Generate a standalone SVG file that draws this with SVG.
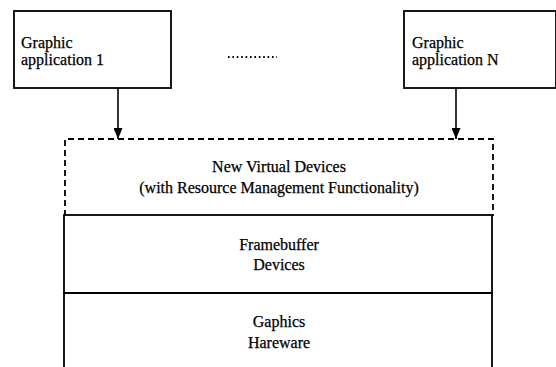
<svg xmlns="http://www.w3.org/2000/svg" width="556" height="367" viewBox="0 0 556 367">
<defs>
<marker id="arr" markerWidth="11" markerHeight="9" refX="11" refY="4.5" orient="auto" markerUnits="userSpaceOnUse" viewBox="0 0 11 9">
<path d="M0,0 L11,4.5 L0,9 Z" fill="#000"/>
</marker>
</defs>
<style>
.box{fill:#fff;stroke:#000;stroke-width:1.8}
.dash{fill:none;stroke:#000;stroke-width:1.8;stroke-dasharray:6 4}
text{font-family:"Liberation Serif","Times New Roman",Times,serif;font-size:16px;fill:#000;stroke:#000;stroke-width:0.25}
.c{text-anchor:middle}
.conn{stroke:#000;stroke-width:1.6;fill:none}
</style>
<rect width="556" height="367" fill="#fff"/>
<g id="app1">
<rect class="box" x="14" y="11" width="157" height="77"/>
<text x="21" y="48" font-family="Liberation Serif">Graphic</text>
<text x="21" y="65" font-family="Liberation Serif">application 1</text>
</g>
<g id="appN">
<rect class="box" x="404" y="11" width="152" height="77"/>
<text x="412" y="48" font-family="Liberation Serif">Graphic</text>
<text x="412" y="65" font-family="Liberation Serif">application N</text>
</g>
<g id="ellipsis">
<line x1="228" y1="57" x2="277" y2="57" stroke="#000" stroke-width="2" stroke-dasharray="1.6 2.8"/>
</g>
<g id="virtual">
<path class="dash" d="M65,216 L65,139 L493,139 L493,216"/>
<text class="c" x="279" y="172" font-family="Liberation Serif">New Virtual Devices</text>
<text class="c" x="279" y="193" font-family="Liberation Serif">(with Resource Management Functionality)</text>
</g>
<g id="framebuffer">
<rect class="box" x="64" y="215" width="428" height="78"/>
<text class="c" x="279" y="250" font-family="Liberation Serif">Framebuffer</text>
<text class="c" x="279" y="270" font-family="Liberation Serif">Devices</text>
</g>
<g id="hardware">
<path class="box" d="M64,368 L64,293 L492,293 L492,368"/>
<text class="c" x="279" y="327" font-family="Liberation Serif">Gaphics</text>
<text class="c" x="279" y="348" font-family="Liberation Serif">Hareware</text>
</g>
<g id="connectors">
<line class="conn" x1="118" y1="88" x2="118" y2="139" marker-end="url(#arr)"/>
<line class="conn" x1="456" y1="88" x2="456" y2="139" marker-end="url(#arr)"/>
</g>
</svg>
